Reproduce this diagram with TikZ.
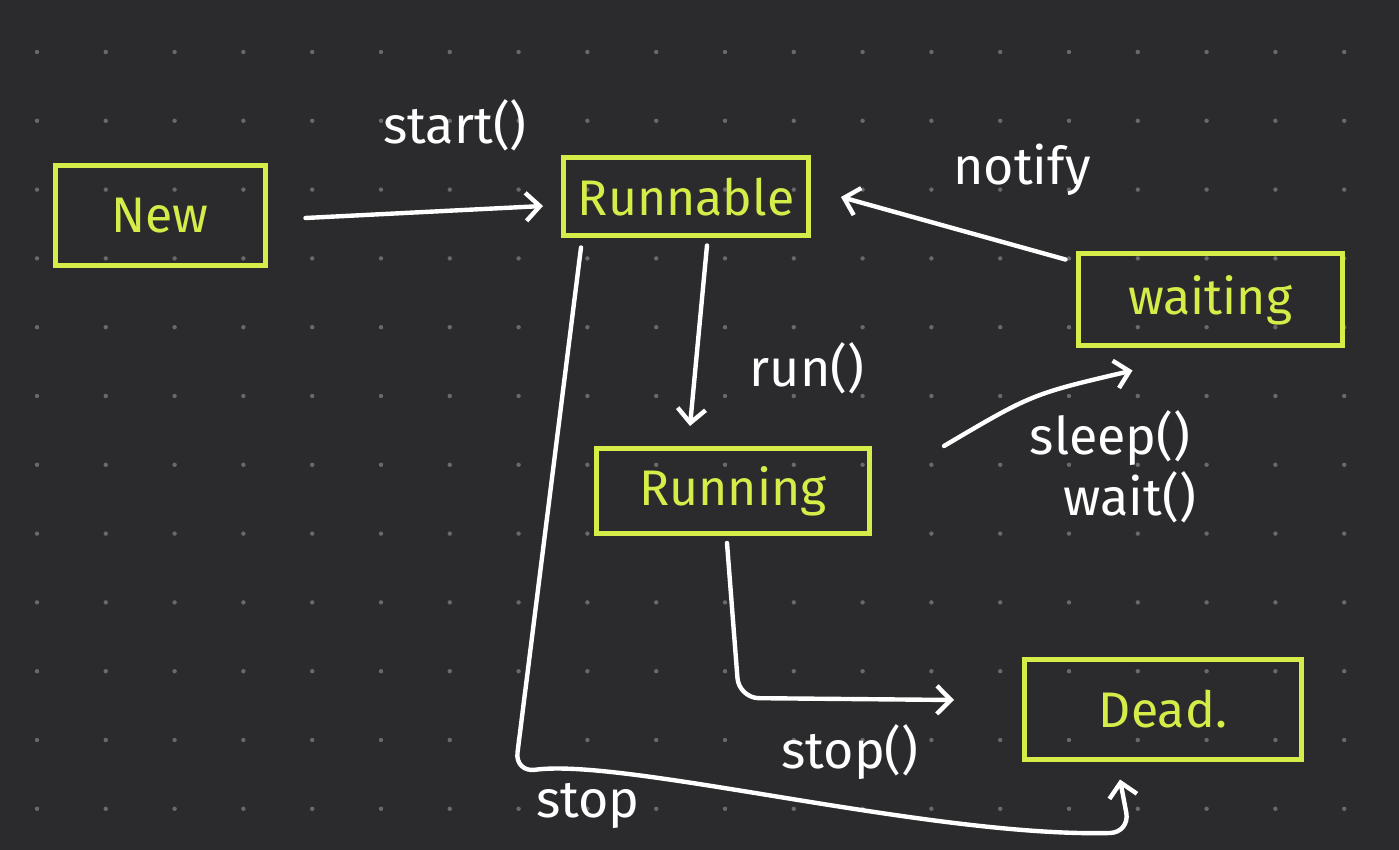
\documentclass[tikz,border=0pt]{standalone}
\usepackage{fontspec}
\setmainfont{Fira Sans}
\usetikzlibrary{arrows.meta,calc}
\definecolor{board}{RGB}{43,43,45}
\definecolor{gridc}{RGB}{105,105,108}
\definecolor{hilite}{RGB}{214,236,72}
\tikzset{
	stbox/.style={draw=hilite,line width=2.5pt,text=hilite,inner sep=0pt,font=\fontsize{25}{28}\selectfont},
	lbl/.style={text=white,font=\fontsize{26}{30}\selectfont},
	arr/.style={draw=white,line width=2.2pt,line cap=round,line join=round,-{Straight Barb[length=7pt,width=14pt]}}
}
\begin{document}
\begin{tikzpicture}[x=0.5pt,y=-0.5pt]
	\fill[board] (0,0) rectangle (1399,850);
	\useasboundingbox (0,0) rectangle (1399,850);
	\foreach \i in {0,...,19}
		\foreach \j in {0,...,11}
			\fill[gridc] ({37+68.8*\i},{52+68.8*\j}) circle (1.1pt);

	\node[stbox,minimum width=105pt,minimum height=50pt]	(New)		at (160,216)	{New};
	\node[stbox,minimum width=122.5pt,minimum height=39pt]	(Runnable)	at (686,197)	{Runnable};
	\node[stbox,minimum width=132pt,minimum height=46pt]	(waiting)	at (1210,300)	{waiting};
	\node[stbox,minimum width=136.5pt,minimum height=42.5pt]	(Running)	at (733,491)	{Running};
	\node[stbox,minimum width=138.5pt,minimum height=50pt]	(Dead)		at (1163,709)	{Dead.};

	\draw[arr] ($(New.east)+(38,2)$) -- ($(Runnable.west)+(-18,9)$);
	\draw[arr] ($(Runnable.south)+(21,7)$) -- ($(Running.north)+(-43,-20)$);
	\draw[arr] ($(waiting.north west)+(-10,8)$) -- ($(Runnable.east)+(30,0)$);
	\draw[arr] ($(Running.north east)+(72,0)$) .. controls ($(Running.north east)+(160,-52)$) .. ($(waiting.south west)+(57,22)$);
	\draw[arr,rounded corners=10] ($(Running.south)+(-6,7)$) -- ++(12,155) -- ($(Dead.west)+(-68,-9)$);
	\draw[arr,rounded corners=10] ($(Runnable.south west)+(20,9)$) -- ++(-66,525)
		.. controls +(110,-15) and +(-200,5) .. ++(615,60) -- ($(Dead.south)+(-43,18)$);

	\node[lbl] (Lstart)	at (455,125)	{start()};
	\node[lbl] (Lrun)	at (807,368)	{run()};
	\node[lbl] (Lnotify)	at (1022,170)	{notify};
	\node[lbl] (Lsleep)	at (1110,438)	{sleep()};
	\node[lbl] (Lwait)	at (1130,497)	{wait()};
	\node[lbl] (Lstop)	at (850,752)	{stop()};
	\node[lbl] (Lstopb)	at (588,806)	{stop};
\end{tikzpicture}
\end{document}
